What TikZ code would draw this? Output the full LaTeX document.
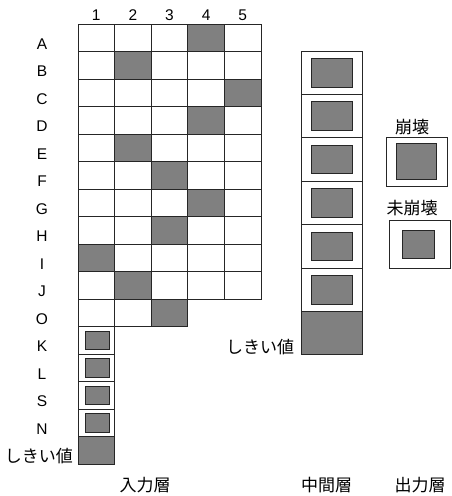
\documentclass[tikz,border=0pt]{standalone}
\usepackage{fontspec}
\setmainfont{Liberation Sans}
\newfontfamily\jpfont{Noto Sans CJK JP}

\begin{document}
\begin{tikzpicture}[x=1pt, y=-1pt,
    cell/.style={draw=black!85, line width=0.9pt},
    hit/.style={cell, fill=black!50},
    lbl/.style={font=\fontsize{15.5}{15.5}\selectfont, inner sep=0pt},
    jlbl/.style={font=\jpfont\fontsize{17}{17}\selectfont, inner sep=0pt}]
  \useasboundingbox (0,0) rectangle (451,496);
  \def\cw{36.6}
  \def\ch{27.5}
  % input layer
  \foreach \k in {1,...,5}
    \node[lbl] (col\k) at (78+\cw*\k-\cw/2, 15) {\k};
  \foreach \r/\s [count=\i from 0] in {A/4,B/2,C/5,D/4,E/2,F/3,G/4,H/3,I/1,J/2} {
    \node[lbl] (row\r) at (42, 24+\ch*\i+\ch/2+6) {\r};
    \foreach \k in {1,...,5}
      \draw[cell] (78+\cw*\k-\cw, 24+\ch*\i) rectangle +(\cw,\ch);
    \draw[hit] (78+\cw*\s-\cw, 24+\ch*\i) rectangle +(\cw,\ch);
  }
  \node[lbl] (rowO) at (42, 24+\ch*10+\ch/2+6) {O};
  \foreach \k in {1,2}
    \draw[cell] (78+\cw*\k-\cw, 24+\ch*10) rectangle +(\cw,\ch);
  \draw[hit] (78+\cw*2, 24+\ch*10) rectangle +(\cw,\ch);
  \foreach \r [count=\i from 11] in {K,L,S,N} {
    \node[lbl] (row\r) at (42, 24+\ch*\i+\ch/2+6) {\r};
    \draw[cell] (78, 24+\ch*\i) rectangle +(\cw,\ch);
    \draw[hit] (85, 24+\ch*\i+4.5) rectangle +(24.3,18.5);
  }
  \draw[hit] (78, 24+\ch*15) rectangle +(\cw,\ch);
  \node[jlbl] (thrIn) at (39, 456) {しきい値};
  \node[jlbl] (inLayer) at (145, 485) {入力層};
  % middle layer
  \foreach \i in {0,...,5} {
    \draw[cell] (301.7, 51+43.4*\i) rectangle +(60.6,43.4);
    \draw[hit] (311.7, 51+43.4*\i+7.4) rectangle +(41,28.6);
  }
  \draw[hit] (301.7, 51+43.4*6) rectangle +(60.6,43.4);
  \node[jlbl] (thrMid) at (260, 347) {しきい値};
  \node[jlbl] (midLayer) at (326.7, 485) {中間層};
  % output layer
  \draw[cell] (386.7, 137.3) rectangle (447.7, 186);
  \draw[hit] (396.7, 143.3) rectangle (436.7, 179);
  \node[jlbl] (fired) at (412, 127) {崩壊};
  \draw[cell] (389, 220.7) rectangle (450.3, 268.7);
  \draw[hit] (402.7, 230.7) rectangle (434.3, 258.3);
  \node[jlbl] (notFired) at (412, 208) {未崩壊};
  \node[jlbl] (outLayer) at (420, 485) {出力層};
\end{tikzpicture}
\end{document}
